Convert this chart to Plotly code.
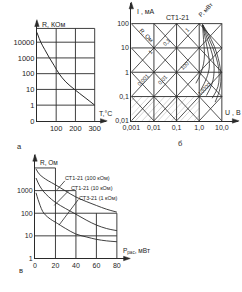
import numpy as np
import plotly.graph_objects as go

W, H = 242, 292
LC = '#2a2a2a'
TC = '#1e1e1e'
FONT = 'Liberation Sans, Arial, sans-serif'

# ---------------- data ----------------
# panel а : R(T)
a_T = [0, 20, 40, 65, 90, 115, 150, 195, 250, 300]
a_R = [42000, 10000, 3500, 1000, 320, 100, 30, 10, 3, 1]
a_xticks = [100, 200, 300]
a_yticks = [0.1, 1, 10, 100, 1000, 10000]
a_ytext = ['0', '1', '10', '100', '1000', '10000']

# panel б : I(U) for СТ1-21
b_U = [
    [1.41, 1.55, 1.71, 1.55, 1.16, 0.71],
    [1.41, 1.89, 2.54, 2.80, 2.08, 1.16],
    [1.41, 2.30, 3.75, 4.57, 3.75, 2.08],
    [1.41, 2.80, 5.04, 7.45, 6.76, 3.75],
    [1.41, 3.40, 6.12, 9.06, 8.22, 5.04],
]
b_I = [
    [91, 22.4, 5.6, 2.2, 0.87, 0.35],
    [91, 22.4, 5.6, 1.66, 0.55, 0.18],
    [91, 22.4, 5.6, 1.38, 0.35, 0.11],
    [91, 22.4, 5.6, 1.15, 0.26, 0.085],
    [91, 22.4, 5.6, 0.87, 0.21, 0.059],
]
b_xticks = [0.001, 0.01, 0.1, 1, 10]
b_xtext = ['0,001', '0,01', '0,1', '1,0', '10,0']
b_yticks = [0.01, 0.1, 1, 10, 100]
b_ytext = ['0,01', '0,1', '1', '10', '100']
b_R_lines = [1, 10, 100, 1000, 10000, 100000]          # Ом
b_P_lines = [0.0001, 0.001, 0.01, 0.1, 1, 10, 100]     # мВт
b_hatch_R = [15, 30, 60, 150, 300, 600, 1500, 3000, 6000, 15000, 30000, 60000]

# panel в : R(P)
c_P1 = [1, 4, 8, 13, 20, 30, 40, 50, 60, 70, 80]
c_R1 = [9000, 5500, 3800, 2700, 1800, 950, 520, 330, 220, 150, 112]
c_P2 = [1, 4, 8, 13, 20, 30, 40, 50, 60, 70, 80]
c_R2 = [3600, 1800, 950, 550, 300, 160, 90, 50, 30, 21, 17]
c_P3 = [1, 3, 5, 7.5, 10, 15, 20, 30, 40, 50, 60, 70, 80]
c_R3 = [800, 400, 220, 120, 85, 55, 40, 21, 12, 9, 7, 6, 5.5]
c_xticks = [0, 20, 40, 60, 80]
c_yticks = [1, 10, 100, 1000]
c_names = ['СТ1-21 (100 кОм)', 'СТ1-21 (10 кОм)', 'СТ3-21 (1 кОм)']

# ---------------- helpers ----------------
fig = go.Figure()
A, B, C = ('x', 'y'), ('x2', 'y2'), ('x3', 'y3')


def seg(xs, ys, ax, color=LC, width=0.9, shape='linear'):
    fig.add_trace(go.Scatter(x=xs, y=ys, mode='lines',
                             line=dict(color=color, width=width, shape=shape),
                             xaxis=ax[0], yaxis=ax[1], hoverinfo='skip',
                             showlegend=False))


def P(x, y):
    return x / W, 1 - y / H


annotations = []
shapes = []


def text(x, y, s, size=7, angle=0, anchor='center', color=TC):
    px, py = P(x, y)
    annotations.append(dict(x=px, y=py, xref='paper', yref='paper', text=s,
                            showarrow=False, textangle=angle, xanchor=anchor,
                            yanchor='middle', font=dict(size=size, color=color,
                                                        family=FONT)))


def arrow(x, y, direction):
    # small filled triangle arrowhead with its tip at pixel (x, y)
    if direction == 'up':
        pts = [(x, y), (x - 2.3, y + 7), (x + 2.3, y + 7)]
    else:
        pts = [(x, y), (x - 7, y - 2.3), (x - 7, y + 2.3)]
    pp = [P(a, b) for a, b in pts]
    path = 'M {} {} L {} {} L {} {} Z'.format(pp[0][0], pp[0][1], pp[1][0], pp[1][1],
                                              pp[2][0], pp[2][1])
    shapes.append(dict(type='path', xref='paper', yref='paper', path=path,
                       fillcolor=LC, line=dict(color=LC, width=0.5)))


# ---------------- panel а ----------------
a_top = 10 ** 4.875
for r in a_yticks[1:]:
    seg([0, 300], [r, r], A)
seg([0, 300], [a_top, a_top], A)
for t in a_xticks:
    seg([t, t], [a_yticks[0], a_top], A)
seg(a_T, a_R, A, width=1, shape='spline')

# ---------------- panel б ----------------
Ulo, Uhi, Ilo, Ihi = b_xticks[0], b_xticks[-1], b_yticks[0], b_yticks[-1]
for R in b_hatch_R:
    u0 = max(Ulo, R * Ilo / 1000)
    u1 = min(1.0, R * 0.1 / 1000)
    if u1 > u0:
        seg([u0, u1], [1000 * u0 / R, 1000 * u1 / R], B, color='#c4c4c4', width=0.7)
for I in b_yticks[1:]:
    seg([Ulo, Uhi], [I, I], B)
for U in b_xticks[1:]:
    seg([U, U], [Ilo, Ihi], B)
for R in b_R_lines:
    u0 = max(Ulo, R * Ilo / 1000)
    u1 = min(Uhi, R * Ihi / 1000)
    seg([u0, u1], [1000 * u0 / R, 1000 * u1 / R], B, width=0.8)
for Pw in b_P_lines:
    u0 = max(Ulo, Pw / Ihi)
    u1 = min(Uhi, Pw / Ilo)
    seg([u0, u1], [Pw / u0, Pw / u1], B, width=0.8)
for us, is_ in zip(b_U, b_I):
    seg(us, is_, B, width=0.8, shape='spline')

# ---------------- panel в ----------------
seg([0, 20], [1e4, 1e4], C)
seg([0, 40], [1000, 1000], C)
seg([0, 80], [100, 100], C)
seg([0, 80], [10, 10], C)
seg([20, 20], [1, 1e4], C)
seg([40, 40], [1, 1000], C)
seg([60, 60], [1, 100], C)
seg([80, 80], [1, 100], C)
for ps, rs in [(c_P1, c_R1), (c_P2, c_R2), (c_P3, c_R3)]:
    seg(ps, rs, C, width=0.9, shape='spline')

# ---------------- texts ----------------
text(32, 25, 'R, КОм', 7, anchor='left')
text(91, 115, 'T,°C', 7, anchor='left')
text(11, 149, 'а', 7.5)

text(131, 12, 'I , мА', 7, anchor='left')
text(222, 114, 'U , В', 7, anchor='left')
text(175, 18, 'СТ1-21', 7)
text(178, 146, 'б', 7.5)
text(142, 36, 'R, Ом', 6, angle=45)
text(204, 10, 'P, мВт', 6, angle=-45)
text(147, 53, '1', 5.5, angle=-45)
text(164, 43, '0,1', 5.5, angle=-45)
text(185, 31, '1', 5.5, angle=-45)
text(139, 81, '0,001', 5.5, angle=-45)
text(159, 81, '0,01', 5.5, angle=-45)
text(182, 67, '100', 5.5, angle=-45)
text(203, 91, '10000', 5.5, angle=-45)

text(30, 165, 'R, Ом', 6.5, anchor='left')
text(116, 255, 'P<sub>рас</sub>, мВт', 6.5, anchor='left')
text(12, 275, 'в', 7.5)
text(56, 181, c_names[0], 5.5, anchor='left')
text(62, 191, c_names[1], 5.5, anchor='left')
text(71, 201, c_names[2], 5.5, anchor='left')

# leader lines for в labels
for (x0, y0, x1, y1) in [(50, 193, 58, 184), (47, 209, 62, 194), (52, 229, 72, 203)]:
    p0, p1 = P(x0, y0), P(x1, y1)
    shapes.append(dict(type='line', xref='paper', yref='paper', x0=p0[0], y0=p0[1],
                       x1=p1[0], y1=p1[1], line=dict(color=LC, width=0.8)))

# axis arrows
arrow(29, 20, 'up')
arrow(102, 123, 'right')
arrow(127, 2, 'up')
arrow(239, 123, 'right')
arrow(27, 157, 'up')
arrow(126, 263, 'right')


def dx(a, b):
    return [a / W, b / W]


def dy(top, bottom):
    return [1 - bottom / H, 1 - top / H]


axis_common = dict(showline=True, linecolor=LC, linewidth=1, showgrid=False,
                   zeroline=False, ticks='', tickfont=dict(size=7, color=TC, family=FONT),
                   fixedrange=True)
a_font = dict(size=7.5, color=TC, family=FONT)

fig.update_layout(
    width=W, height=H, margin=dict(l=0, r=0, t=0, b=0),
    paper_bgcolor='white', plot_bgcolor='rgba(0,0,0,0)',
    showlegend=False, font=dict(family=FONT, color=TC),
    xaxis=dict(axis_common, domain=dx(29, 101), range=[0, 360], anchor='y',
               tickvals=a_xticks, ticktext=[str(v) for v in a_xticks], tickfont=a_font),
    yaxis=dict(axis_common, domain=dy(21, 123), type='log', range=[-1.001, 5.37], anchor='x',
               tickvals=a_yticks, ticktext=a_ytext, tickfont=a_font),
    xaxis2=dict(axis_common, domain=dx(127, 238), type='log', range=[-3.001, 1.72], anchor='y2',
                tickvals=b_xticks, ticktext=b_xtext),
    yaxis2=dict(axis_common, domain=dy(3, 123), type='log', range=[-2.001, 2.85], anchor='x2',
                tickvals=b_yticks, ticktext=b_ytext),
    xaxis3=dict(axis_common, domain=dx(27, 125), range=[0, 92.2], anchor='y3',
                tickvals=c_xticks, ticktext=[str(v) for v in c_xticks]),
    yaxis3=dict(axis_common, domain=dy(158, 263), type='log', range=[-0.001, 4.56], anchor='x3',
                tickvals=c_yticks, ticktext=[str(v) for v in c_yticks]),
    annotations=annotations, shapes=shapes,
)

fig.write_html('out.html')
